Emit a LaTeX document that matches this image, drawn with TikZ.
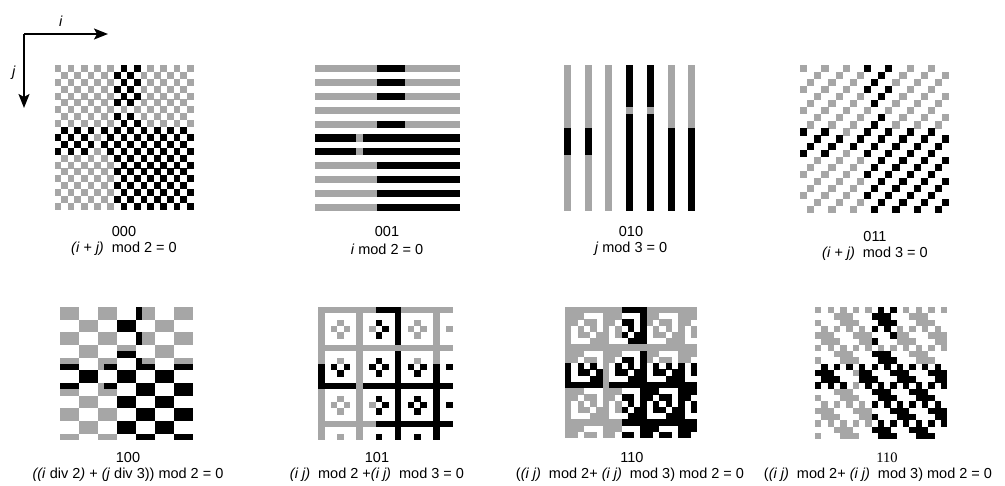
\documentclass[tikz,border=0pt]{standalone}
\usepackage{fontspec}
\setmainfont{Liberation Sans}
\newfontfamily\seriffam{Liberation Serif}
\usetikzlibrary{arrows.meta}
\definecolor{maskgray}{RGB}{166,166,166}

% #1 x0, #2 y0, #3 module width, #4 module height, #5 mask condition in \mr (row) and \mc (column)
\newcommand{\maskgrid}[5]{%
  \foreach \mr in {0,...,20}{%
    \foreach \mc in {0,...,20}{%
      \pgfmathtruncatemacro{\mon}{#5}%
      \ifnum\mon=1
        \pgfmathtruncatemacro{\mdat}{((\mr<=8)&&(\mc>=9)&&(\mc<=12)&&(\mr!=6)) || ((\mr>=9)&&(\mr<=12)&&(\mc!=6)) || ((\mr>=13)&&(\mc>=9))}%
        \ifnum\mdat=1
          \fill[black] ({#1+\mc*#3},{#2+\mr*#4}) rectangle ++({#3+0.1},{#4+0.1});
        \else
          \fill[maskgray] ({#1+\mc*#3},{#2+\mr*#4}) rectangle ++({#3+0.1},{#4+0.1});
        \fi
      \fi
    }%
  }%
}

\begin{document}
\begin{tikzpicture}[x=1pt,y=-1pt,
  code/.style={font=\fontsize{14.5}{16}\selectfont, inner sep=0pt, anchor=center},
  formula/.style={font=\fontsize{14.5}{16}\selectfont, inner sep=0pt, anchor=center},
  axis/.style={line width=1.6pt, -{Stealth[length=14pt,width=11pt,inset=3pt]}}]
\useasboundingbox (0,0) rectangle (1005,486);

% axes
\coordinate (o) at (24,34);
\coordinate (iend) at (108,34);
\coordinate (jend) at (24,108);
\draw[axis] (o) -- (iend);
\draw[axis] (o) -- (jend);
\node[formula] (ilab) at (61,21) {\textit{i}};
\node[formula] (jlab) at (14,73) {\textit{j}};

% top row
\maskgrid{54.5}{65}{6.62}{6.9}{mod(\mr+\mc,2)==0}
\maskgrid{315}{65}{6.9}{6.95}{mod(\mr,2)==0}
\maskgrid{564}{65}{6.9}{6.95}{mod(\mc,3)==0}
\maskgrid{800}{65}{7.1}{7.05}{mod(\mr+\mc,3)==0}

% bottom row
\maskgrid{60}{307}{6.33}{6.33}{mod(floor(\mr/2)+floor(\mc/3),2)==0}
\maskgrid{318}{307}{6.4}{6.33}{mod(\mr*\mc,2)+mod(\mr*\mc,3)==0}
\maskgrid{565}{307}{6.29}{6.25}{mod(mod(\mr*\mc,2)+mod(\mr*\mc,3),2)==0}
\maskgrid{815}{307}{6.29}{6.29}{mod(mod(\mr+\mc,2)+mod(\mr*\mc,3),2)==0}

% labels top
\node[code] (c000) at (124,232) {000};
\node[formula] (f000) at (124,249) {\textit{(i + j)}~ mod 2 = 0};
\node[code] (c001) at (387,232) {001};
\node[formula] (f001) at (387,249) {\textit{i} mod 2 = 0};
\node[code] (c010) at (631,232) {010};
\node[formula] (f010) at (631,249) {\textit{j} mod 3 = 0};
\node[code] (c011) at (875,237) {011};
\node[formula] (f011) at (875,254) {\textit{(i + j)}~ mod 3 = 0};

% labels bottom
\node[code] (c100) at (128,458) {100};
\node[formula] (f100) at (128,475) {\textit{((i} div 2\textit{)} + \textit{(j} div 3)) mod 2 = 0};
\node[code] (c101) at (377,458) {101};
\node[formula] (f101) at (377,475) {\textit{(i j)}~ mod 2 +\textit{(i j)}~ mod 3 = 0};
\node[code] (c110) at (632,458) {110};
\node[formula] (f110) at (630,475) {(\textit{(i j)}~ mod 2+ \textit{(i j)}~ mod 3) mod 2 = 0};
\node[code, font=\seriffam\fontsize{14.5}{16}\selectfont] (c111) at (887,458) {110};
\node[formula] (f111) at (878,475) {(\textit{(i j)}~ mod 2+ \textit{(i j)}~ mod 3) mod 2 = 0};
\end{tikzpicture}
\end{document}
